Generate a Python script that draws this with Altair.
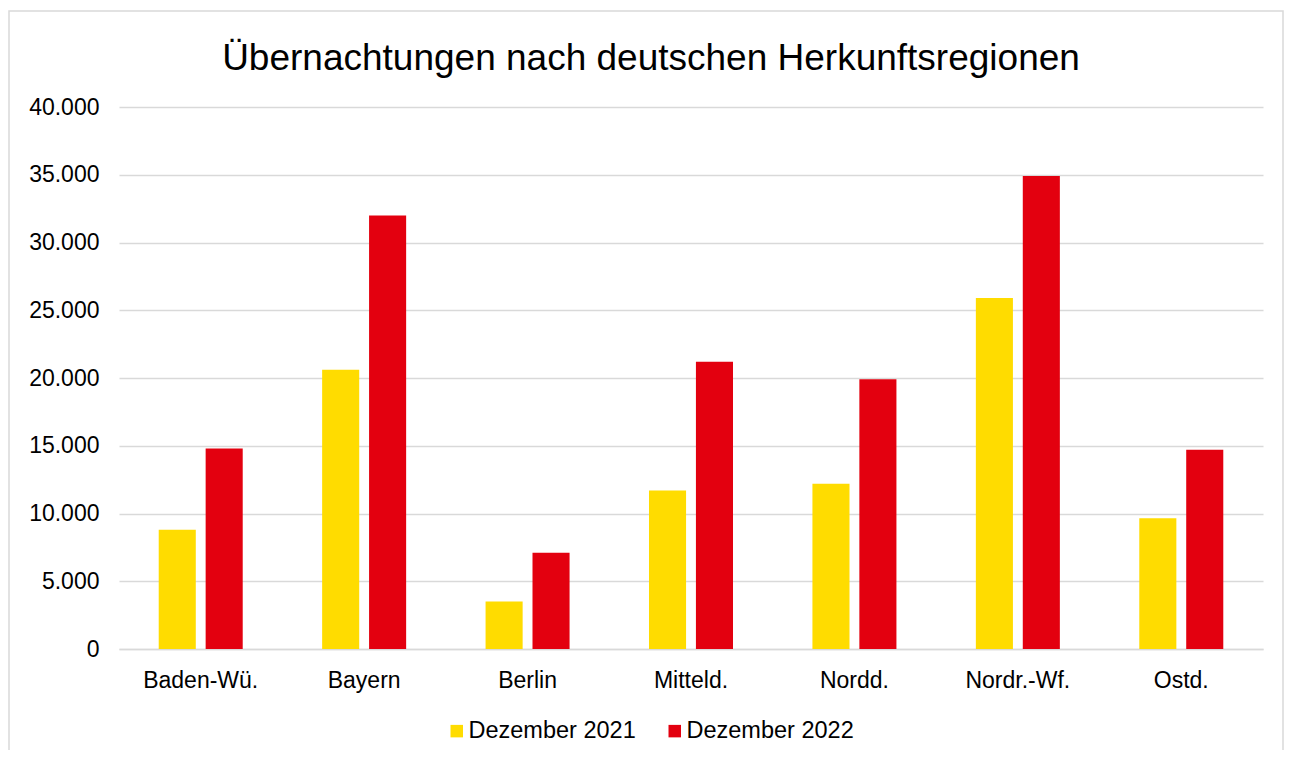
import altair as alt
import pandas as pd

regions = ["Baden-Wü.", "Bayern", "Berlin", "Mitteld.", "Nordd.", "Nordr.-Wf.", "Ostd."]
series_names = ["Dezember 2021", "Dezember 2022"]
values_2021 = [8800, 20600, 3500, 11700, 12200, 25900, 9650]
values_2022 = [14800, 32000, 7100, 21200, 19900, 34900, 14700]
y_ticks = [0, 5000, 10000, 15000, 20000, 25000, 30000, 35000, 40000]
colors = ["#FFDC00", "#E3000F"]
title_text = "Übernachtungen nach deutschen Herkunftsregionen"

rows = []
for r, a, b in zip(regions, values_2021, values_2022):
    rows.append({"Region": r, "Zeitraum": series_names[0], "Wert": a})
    rows.append({"Region": r, "Zeitraum": series_names[1], "Wert": b})
df = pd.DataFrame(rows)

FONT = "Liberation Sans"
W, H = 1144, 542

bars = alt.Chart(df).mark_bar().encode(
    x=alt.X("Region:N", sort=regions, title=None,
            scale=alt.Scale(paddingInner=0.486, paddingOuter=0.243),
            axis=alt.Axis(labelAngle=0, labelFontSize=23, labelFont=FONT, labelColor="#000000",
                          labelPadding=20, ticks=False, domainColor="#D9D9D9", domainWidth=1.5,
                          grid=False)),
    xOffset=alt.XOffset("Zeitraum:N", sort=series_names,
                        scale=alt.Scale(paddingInner=0.21, paddingOuter=0)),
    y=alt.Y("Wert:Q", title=None,
            scale=alt.Scale(domain=[0, 40000], nice=False),
            axis=alt.Axis(values=y_ticks, labelExpr="replace(format(datum.value, ','), ',', '.')",
                          labelFontSize=23, labelFont=FONT, labelColor="#000000", labelPadding=20,
                          ticks=False, domain=False, gridColor="#D9D9D9", gridWidth=1.5)),
    color=alt.Color("Zeitraum:N", sort=series_names,
                    scale=alt.Scale(domain=series_names, range=colors),
                    legend=alt.Legend(title=None, orient="none", direction="horizontal",
                                      legendX=326, legendY=612, padding=0,
                                      symbolType="square", symbolSize=156, symbolStrokeWidth=0,
                                      labelFontSize=23.5, labelFont=FONT, labelColor="#000000",
                                      labelOffset=0, labelLimit=400, columnPadding=27)),
)

frame = alt.Chart(df).mark_rect(fill=None, stroke="#D9D9D9", strokeWidth=1.5, clip=False).encode(
    x=alt.value(-110), x2=alt.value(1164), y=alt.value(-96), y2=alt.value(700)
).transform_filter(alt.datum.Region == regions[0]).transform_filter(alt.datum.Zeitraum == series_names[0])

chart = alt.layer(frame, bars).properties(
    width=W, height=H,
    background="white",
    autosize=alt.AutoSizeParams(type="none"),
    padding={"left": 111, "top": 99, "right": 22, "bottom": 101},
    title=alt.Title(title_text, fontSize=37, font=FONT, fontWeight="normal", color="#000000",
                    anchor="middle", dx=-40, dy=98, offset=30),
).configure_view(strokeWidth=0, stroke=None)

chart.save("out.html", embed_options={"renderer": "svg", "actions": False})
